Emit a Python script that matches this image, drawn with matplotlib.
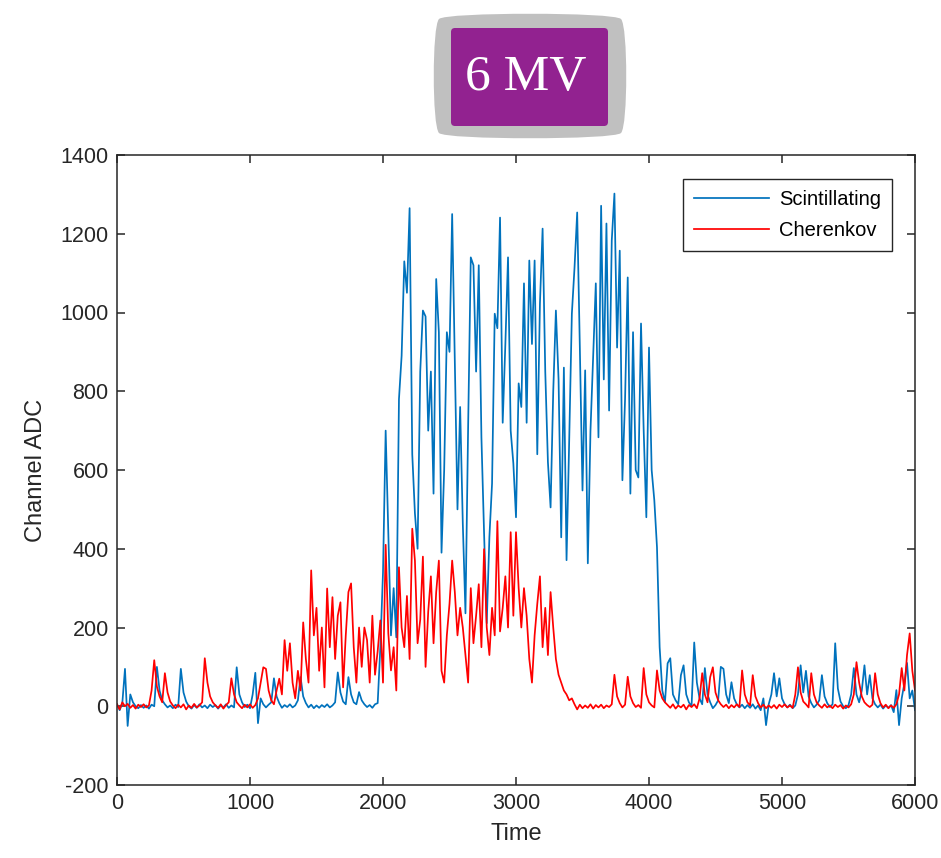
import numpy as np
import matplotlib
matplotlib.use('Agg')
import matplotlib.pyplot as plt
from matplotlib.patches import FancyBboxPatch

plt.rcParams['font.family'] = ['Liberation Sans', 'DejaVu Sans']
plt.rcParams['axes.unicode_minus'] = False

step = 20
scintillating = [
    5, -10, 8, 95, -50, 30, 10, 0, -5, 3,
    -4, 2, -6, 4, 0, 100, 40, 15, 5, -3,
    2, -5, 4, -2, 95, 35, 12, 0, -6, 3,
    -4, 5, -3, 2, -5, 4, -2, 3, -6, 2,
    -3, 5, -4, 2, -3, 99, 30, 10, -2, 4,
    -5, 30, 85, -43, 20, 5, -3, 4, 10, 71,
    25, 8, -4, 3, -2, 5, -3, 2, 15, 74,
    25, 8, -3, 4, -5, 2, -4, 3, -2, 5,
    -3, 2, 10, 86, 35, 12, 5, 74, 30, 10,
    5, 36, 15, 5, -2, 3, -4, 5, 8, 150,
    340, 700, 440, 180, 300, 175, 780, 890, 1130, 1050,
    1265, 640, 490, 400, 850, 1005, 990, 700, 850, 540,
    1085, 950, 390, 600, 950, 900, 1250, 880, 500, 760,
    464, 236, 708, 1140, 1120, 850, 1120, 683, 439, 211,
    430, 566, 997, 960, 1241, 720, 920, 1140, 700, 617,
    480, 820, 760, 1074, 720, 1132, 920, 1132, 640, 1023,
    1213, 850, 620, 505, 800, 1005, 830, 429, 860, 371,
    675, 997, 1114, 1254, 911, 548, 853, 363, 700, 886,
    1074, 683, 1271, 830, 1226, 751, 1183, 1302, 911, 1157,
    574, 780, 1089, 540, 950, 600, 581, 972, 700, 480,
    911, 600, 523, 404, 150, 40, 10, 109, 122, 30,
    15, 5, 79, 104, 30, 10, 0, 162, 60, 20,
    5, 97, 30, 10, -5, 3, 15, 100, 95, 30,
    8, 61, 20, 5, -3, 4, -5, 3, -4, 5,
    -6, 2, -10, 20, -48, 5, 30, 84, 25, 71,
    20, 5, -3, 4, -5, 2, 30, 104, 35, 90,
    25, 8, -3, 4, 15, 79, 25, 8, -2, 5,
    160, 45, 12, 0, -5, 3, 30, 97, 30, 10,
    40, 104, 30, 79, 20, 5, -3, 4, -6, 2,
    -4, 3, -15, 41, -48, 20, 58, 110, 20, 40,
    -10,
]
cherenkov = [
    5, -8, 10, 0, 6, -4, 3, -6, 4, -2,
    5, -3, 2, 40, 117, 50, 25, 10, 84, 35,
    12, 2, -5, 4, -3, 5, -8, 2, -4, 6,
    -3, 2, 10, 122, 60, 25, 10, 2, -4, 5,
    -6, 3, 10, 71, 30, 10, 2, -5, 4, -3,
    5, -4, 3, 20, 60, 99, 95, 40, 15, 5,
    40, 70, 30, 168, 90, 160, 60, 20, 90, 40,
    213, 120, 60, 345, 180, 250, 90, 200, 48, 299,
    150, 277, 120, 230, 264, 48, 180, 290, 312, 150,
    60, 200, 100, 200, 168, 60, 230, 80, 140, 218,
    60, 410, 185, 91, 150, 40, 353, 200, 150, 280,
    120, 451, 370, 160, 220, 380, 100, 240, 330, 160,
    290, 370, 90, 60, 180, 260, 370, 290, 180, 250,
    200, 130, 60, 300, 160, 230, 310, 150, 399, 200,
    130, 250, 180, 470, 190, 250, 330, 200, 442, 230,
    442, 300, 200, 300, 230, 120, 60, 180, 260, 330,
    150, 250, 130, 290, 200, 120, 80, 60, 40, 30,
    15, 20, 5, -8, 4, -5, 2, -4, 5, -6,
    3, -3, 4, -5, 2, -2, 5, 80, 25, 8,
    -3, 4, 75, 25, 8, -2, 3, -4, 97, 30,
    10, 2, -3, 91, 40, 20, 10, 3, -4, 5,
    -6, 2, -3, 4, -8, 3, -2, 5, -5, 20,
    84, 30, 10, 74, 99, 35, 15, 5, -2, 4,
    -5, 3, -3, 5, -2, 91, 30, 10, 2, 79,
    25, 8, -3, 4, -5, 2, -4, 3, -6, 4,
    -2, 5, -3, 2, -4, 30, 99, 35, 12, 5,
    -3, 84, 30, 10, 2, -4, 5, -3, 2, -5,
    4, -2, 3, -6, 2, -3, 5, 30, 112, 60,
    25, 10, 3, -2, 4, 84, 30, 8, -3, 4,
    -5, 2, -4, 5, 30, 97, 40, 130, 185, 90,
    40,
]
x_ticks = [0, 1000, 2000, 3000, 4000, 5000, 6000]
y_ticks = [-200, 0, 200, 400, 600, 800, 1000, 1200, 1400]

W, H = 941, 858
fig = plt.figure(figsize=(W / 100, H / 100), dpi=100)
ax = fig.add_axes([117 / W, 1 - 785 / H, 798 / W, 630 / H])

t_s = np.arange(len(scintillating)) * step
t_c = np.arange(len(cherenkov)) * step
ax.plot(t_s, scintillating, color='#0072BD', lw=1.25, label='Scintillating')
ax.plot(t_c, cherenkov, color='#FF0000', lw=1.25, label='Cherenkov')

ax.set_xlim(0, 6000)
ax.set_ylim(-200, 1400)
ax.set_xticks(x_ticks)
ax.set_yticks(y_ticks)
dark = '#262626'
ax.tick_params(direction='in', length=6, width=1.1, colors=dark, labelsize=15.5,
               top=True, right=True, pad=6)
for sp in ax.spines.values():
    sp.set_color(dark)
    sp.set_linewidth(1.1)
ax.set_xlabel('Time', fontsize=17, color=dark, labelpad=6)
ax.set_ylabel('Channel ADC', fontsize=17, color=dark, labelpad=10)

leg = ax.legend(loc='upper right', bbox_to_anchor=(1 - 23 / 798, 1 - 24 / 630),
                borderaxespad=0, fontsize=14.5, handlelength=3.7, handletextpad=0.5,
                labelspacing=0.6, fancybox=False, framealpha=1, borderpad=0.55)
leg.get_frame().set_edgecolor(dark)
leg.get_frame().set_linewidth(1.0)
for line in leg.get_lines():
    line.set_linewidth(1.25)

# "6 MV" badge on top
ov = fig.add_axes([0, 0, 1, 1])
ov.set_xlim(0, W)
ov.set_ylim(H, 0)
ov.axis('off')
ov.patch.set_alpha(0)
ov.add_patch(FancyBboxPatch((443, 23), 174, 106,
                            boxstyle='round4,pad=11,rounding_size=7',
                            fc='#C0C0C0', ec='none'))
ov.add_patch(FancyBboxPatch((451, 28), 157, 98,
                            boxstyle='round,pad=0,rounding_size=4',
                            fc='#922290', ec='none'))
ov.text(526, 78, '6 MV', color='white', fontsize=37, ha='center', va='center',
        family=['Liberation Serif', 'DejaVu Serif'])

fig.savefig('out.png', dpi=100)
